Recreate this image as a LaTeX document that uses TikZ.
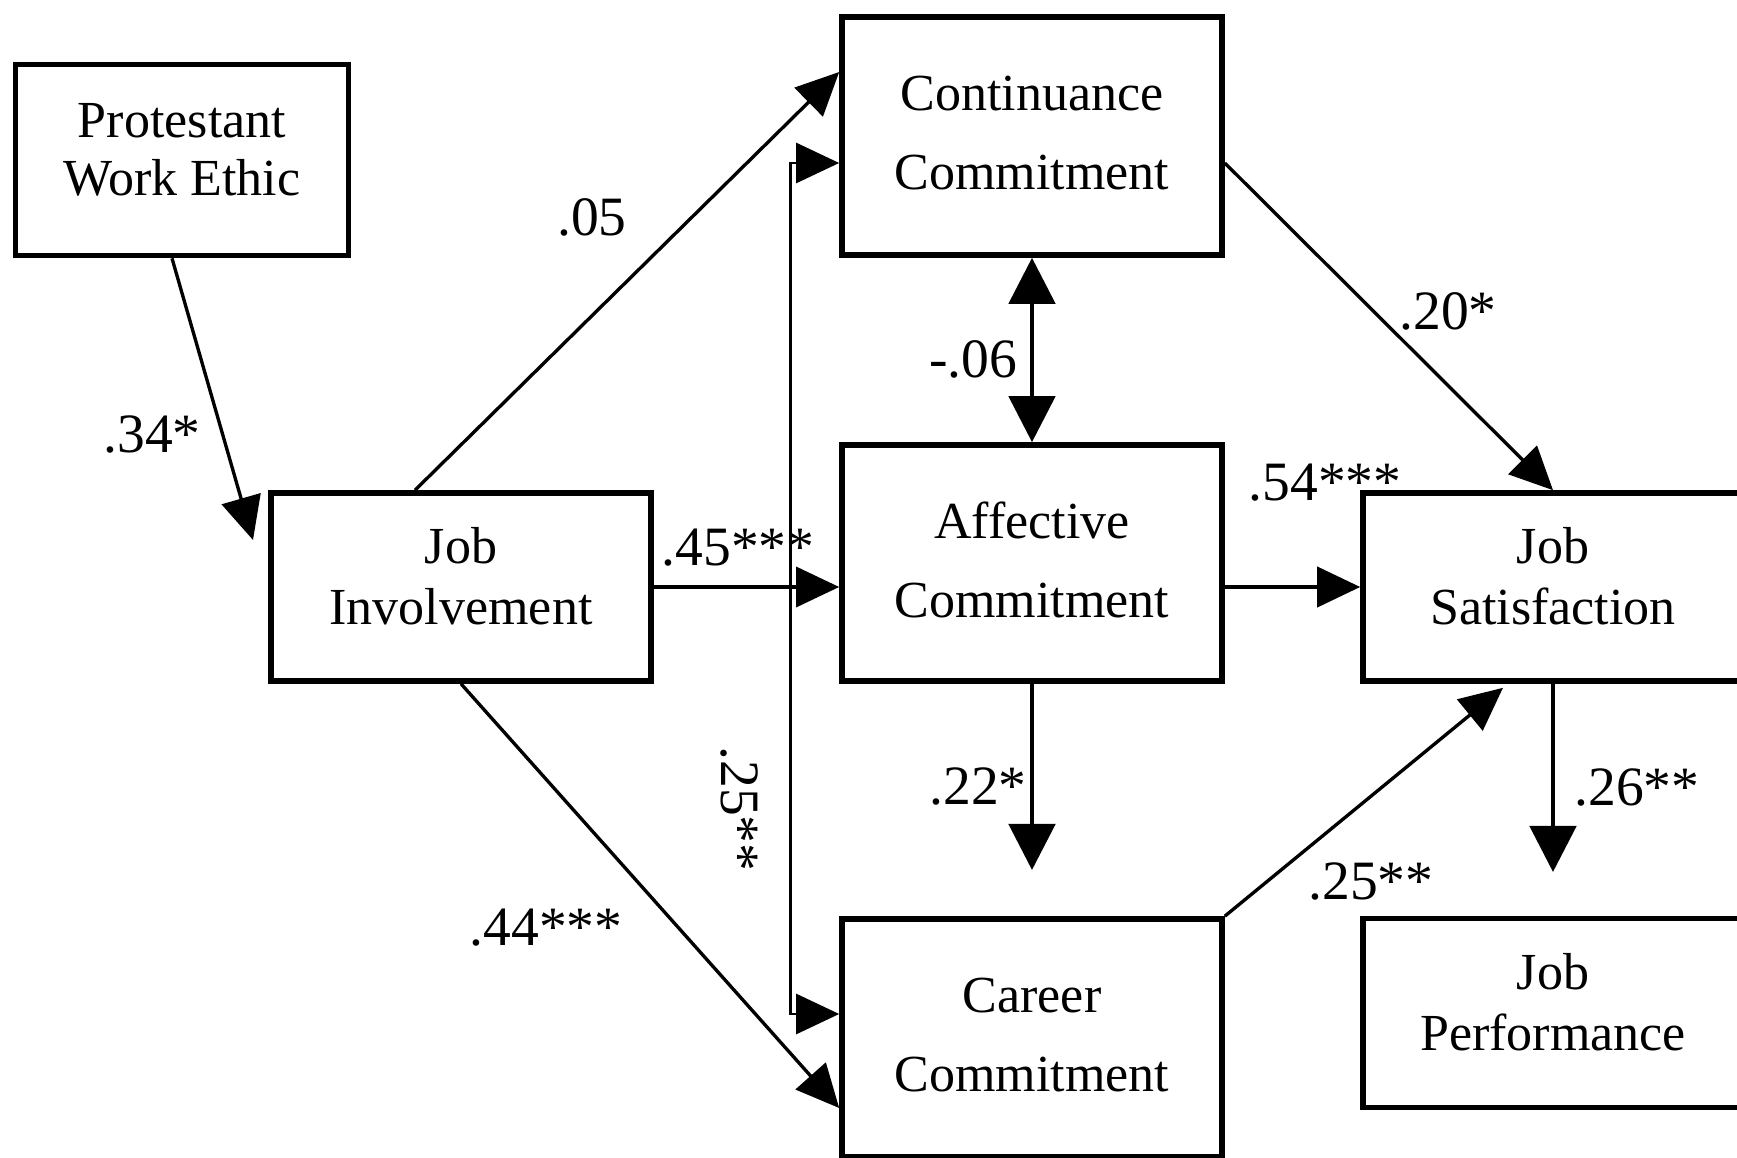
\documentclass[tikz,border=0pt]{standalone}
\usepackage{fontspec}
\setmainfont{Liberation Serif}
\usetikzlibrary{arrows.meta,positioning,calc}

\tikzset{
    box/.style={draw, line width=1.6pt, align=center, minimum width=3.8cm, minimum height=1.88cm, text depth=0.22cm, font=\fontsize{14.8}{17.5}\selectfont},
    wide/.style={text depth=0.07cm, font=\fontsize{14.8}{22.5}\selectfont},
    coef/.style={font=\fontsize{15.8}{18}\selectfont, inner sep=0pt},
    arr/.style={-{Triangle[length=4.3mm,width=4mm]}, line width=0.95pt},
    bigarr/.style={-{Triangle[length=4.6mm,width=4.6mm]}, line width=1.4pt},
    bigboth/.style={{Triangle[length=4.6mm,width=4.6mm]}-{Triangle[length=4.6mm,width=4.6mm]}, line width=1.4pt},
}

\begin{document}
\begin{tikzpicture}
        \path[use as bounding box, clip] (0,0) rectangle (17.37,-11.58);

        % Boxes
        \node[box, minimum width=3.33cm, minimum height=1.91cm, font=\fontsize{14.8}{16.5}\selectfont] (pwe) at (1.82,-1.60) {Protestant\\Work Ethic};
        \node[box] (ji) at (4.61,-5.87) {Job\\Involvement};
        \node[box, wide, minimum height=2.38cm] (cc) at (10.32,-1.36) {Continuance\\Commitment};
        \node[box, wide, minimum height=2.36cm] (ac) at (10.32,-5.63) {Affective\\Commitment};
        \node[box, wide, minimum height=2.38cm] (car) at (10.32,-10.38) {Career\\Commitment};
        \node[box] (js) at (15.53,-5.87) {Job\\Satisfaction};
        \node[box, minimum height=1.89cm] (jp) at (15.53,-10.13) {Job\\Performance};

        % Free ends
        \coordinate (pwetip) at (2.53,-5.40);
        \coordinate (acdown) at (10.32,-8.70);
        \coordinate (jsdown) at (15.53,-8.72);

        % Paths
        \draw[arr] ($(pwe.south)+(-0.1,0)$) -- (pwetip);
        \draw[arr] ($(ji.north)+(-0.46,0)$) -- ($(cc.west)+(0,0.64)$);
        \draw[arr] (ji.east) -- (ji.east -| ac.west);
        \draw[arr] (ji.south) -- ($(car.west)+(0,-0.70)$);
        \draw[{Triangle[length=4.3mm,width=4mm]}-{Triangle[length=4.3mm,width=4mm]}, line width=0.75pt]
            ($(cc.west)+(0,-0.27)$) -- ++(-0.49,0) |- ($(car.west)+(0,0.24)$);
        \draw[bigboth] (cc.south) -- (ac.north);
        \draw[bigarr] (ac.south) -- (acdown);
        \draw[arr] ($(cc.east)+(0,-0.27)$) -- (js.north);
        \draw[arr, line width=1.2pt] (ac.east |- js.west) -- (js.west);
        \draw[arr] (car.north east) -- ($(js.south)+(-0.5,-0.04)$);
        \draw[bigarr] (js.south) -- (jsdown);

        % Coefficients
        \node[coef] (l34) at (1.52,-4.35) {.34*};
        \node[coef] (l05) at (5.92,-2.17) {.05};
        \node[coef] (l45) at (7.38,-5.48) {.45***};
        \node[coef] (l44) at (5.46,-9.28) {.44***};
        \node[coef, rotate=-90] (l25a) at (7.39,-8.09) {.25**};
        \node[coef] (l06) at (9.73,-3.59) {-.06};
        \node[coef] (l22) at (9.78,-7.87) {.22*};
        \node[coef] (l20) at (14.48,-3.11) {.20*};
        \node[coef] (l54) at (13.25,-4.83) {.54***};
        \node[coef] (l25b) at (13.71,-8.82) {.25**};
        \node[coef] (l26) at (16.37,-7.88) {.26**};
    \end{tikzpicture}
\end{document}
